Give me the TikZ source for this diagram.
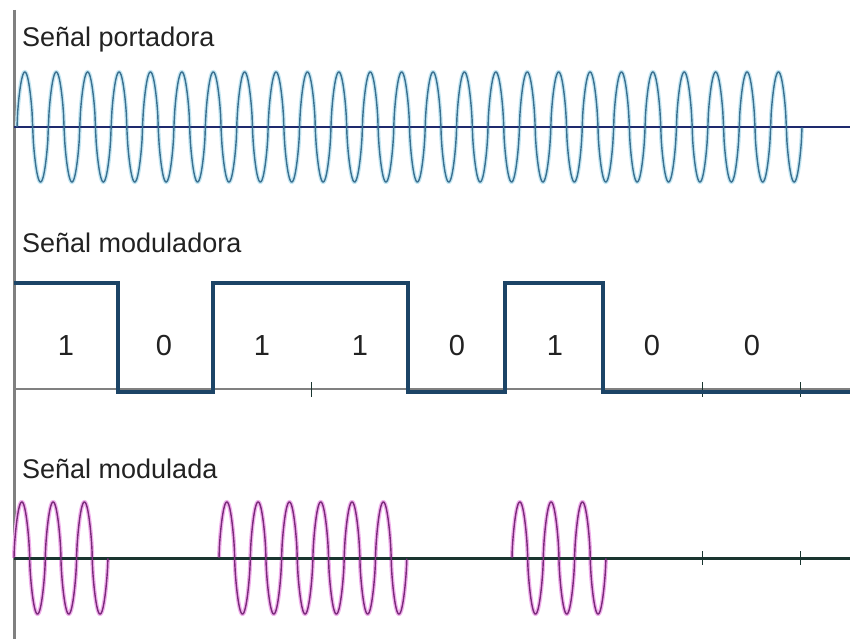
\documentclass[tikz,border=0pt]{standalone}
\usepackage{fontspec}
\setmainfont{Liberation Sans}
\definecolor{carrierc}{HTML}{3A7090}
\definecolor{carrierh}{HTML}{C4E6F2}
\definecolor{modc}{HTML}{7A2A7A}
\definecolor{modh}{HTML}{F0B0EC}
\definecolor{sqc}{HTML}{1C4466}
\definecolor{axc}{HTML}{808080}
\definecolor{ax1}{HTML}{1E2A6E}
\definecolor{ax3}{HTML}{1A3530}
\definecolor{txt}{HTML}{222222}
\begin{document}
\begin{tikzpicture}[x=1pt,y=-1pt,
  declare function={wv(\t)=sign(sin(\t))*pow(abs(sin(\t)),0.65);},
  title/.style={anchor=base west,inner sep=0pt,text=txt,font=\fontsize{27}{30}\selectfont},
  bit/.style={anchor=center,inner sep=0pt,text=txt,font=\fontsize{29}{32}\selectfont},
  halo1/.style={carrierh,line width=4pt},
  wave1/.style={carrierc,line width=1.4pt},
  halo3/.style={modh,line width=4pt},
  wave3/.style={modc,line width=1.4pt},
  sqwave/.style={sqc,line width=4pt,line join=miter},
  tick/.style={ax3,line width=1pt}]
\useasboundingbox (0,0) rectangle (850,639);
\fill[white] (0,0) rectangle (850,639);
% left axis
\coordinate (vt) at (14,10);
\coordinate (vb) at (14,639);
\draw[axc,line width=3pt] (vt) -- (vb);
% titles
\node[title] (t1) at (22,47) {Señal portadora};
\node[title] (t2) at (22,252) {Señal moduladora};
\node[title] (t3) at (22,478) {Señal modulada};
% carrier
\coordinate (a1l) at (14,127);
\coordinate (a1r) at (850,127);
\draw[halo1] plot[domain=17:802,samples=1200] (\x,{127-55*wv((\x-17)*11.4650)});
\draw[ax1,line width=1.5pt] (a1l) -- (a1r);
\draw[wave1] plot[domain=17:802,samples=1200] (\x,{127-55*wv((\x-17)*11.4650)});
% modulating signal
\coordinate (a2l) at (14,389);
\coordinate (a2r) at (850,389);
\draw[axc,line width=1.2pt] (a2l) -- (a2r);
\foreach \tx in {311,702,800}{\draw[tick] (\tx,382) -- (\tx,397);}
\draw[sqwave] (14,283) -- (118,283) -- (118,392) -- (213,392) -- (213,283) -- (408,283) -- (408,392) -- (505,392) -- (505,283) -- (603,283) -- (603,392) -- (850,392);
\node[bit] (b1) at (66,346) {1};
\node[bit] (b2) at (164,346) {0};
\node[bit] (b3) at (262,346) {1};
\node[bit] (b4) at (360,346) {1};
\node[bit] (b5) at (457,346) {0};
\node[bit] (b6) at (555,346) {1};
\node[bit] (b7) at (652,346) {0};
\node[bit] (b8) at (752,346) {0};
% modulated signal
\coordinate (a3l) at (14,558);
\coordinate (a3r) at (850,558);
\foreach \s/\n in {14/3,219/6,512/3}{
  \draw[halo3] plot[domain=\s:\s+\n*31.3,samples=500] (\x,{558-56*wv((\x-\s)*11.5016)});
}
\draw[ax3,line width=3pt] (a3l) -- (a3r);
\foreach \tx in {702,800}{\draw[tick] (\tx,551) -- (\tx,565);}
\foreach \s/\n in {14/3,219/6,512/3}{
  \draw[wave3] plot[domain=\s:\s+\n*31.3,samples=500] (\x,{558-56*wv((\x-\s)*11.5016)});
}
\end{tikzpicture}
\end{document}
